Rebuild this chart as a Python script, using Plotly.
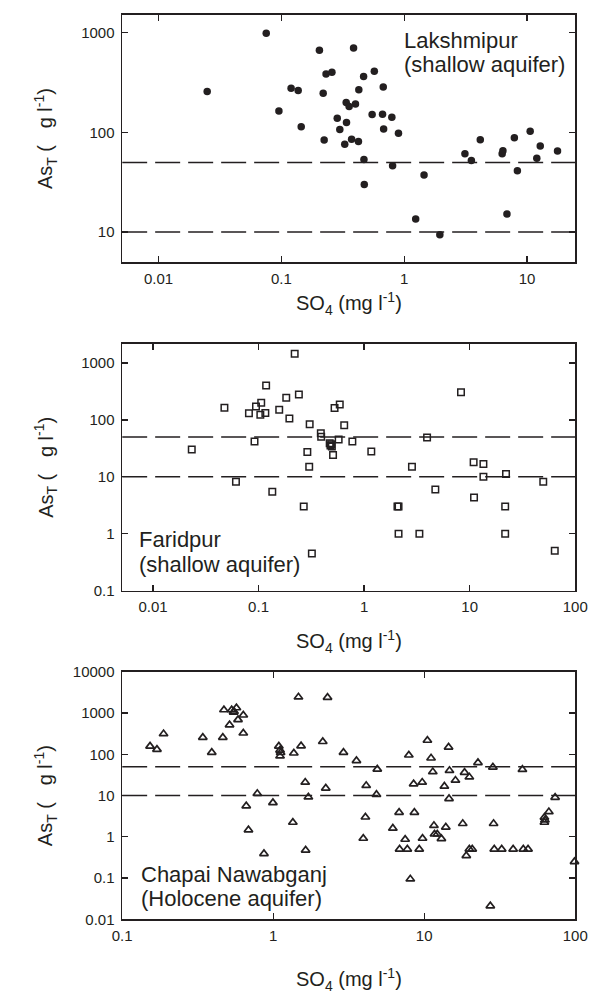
import plotly.graph_objects as go

# ---------------- data ----------------
# Panel 1: Lakshmipur (shallow aquifer)
lak_so4 = [0.0249, 0.0753, 0.0955, 0.120, 0.137, 0.145, 0.204, 0.219, 0.223, 0.231,
           0.258, 0.285, 0.299, 0.328, 0.337, 0.339, 0.356, 0.373, 0.387, 0.401,
           0.424, 0.427, 0.467, 0.470, 0.473, 0.548, 0.571, 0.666, 0.675, 0.680,
           0.793, 0.804, 0.898, 1.24, 1.45, 1.95, 3.12, 3.52, 4.16, 6.27,
           6.36, 6.86, 7.88, 8.34, 10.6, 12.0, 12.8, 17.7]
lak_as = [257, 993, 164, 277, 263, 114, 668, 248, 84, 387,
          402, 139, 107, 76, 200, 126, 182, 85.5, 705, 193,
          81, 269, 365, 53.5, 30.1, 151, 411, 152, 286, 108,
          142, 46.4, 98, 13.5, 37.4, 9.42, 61.2, 52.2, 84.4, 61.2,
          65.6, 15.2, 88.3, 41.3, 103, 55.1, 72.9, 65.2]

# Panel 2: Faridpur (shallow aquifer)
far_so4 = [0.0233, 0.0475, 0.0611, 0.0811, 0.0916, 0.0946, 0.104, 0.106, 0.116, 0.118,
           0.135, 0.157, 0.183, 0.196, 0.220, 0.241, 0.268, 0.290, 0.302, 0.305,
           0.320, 0.389, 0.392, 0.472, 0.480, 0.488, 0.495, 0.508, 0.525, 0.574,
           0.588, 0.648, 0.774, 1.17, 2.07, 2.12, 2.12, 2.84, 3.34, 3.95,
           4.73, 8.28, 10.9, 11.0, 13.5, 13.5, 22.1, 21.7, 21.7, 49.8, 64.0]
far_as = [30.3, 163, 8.15, 130, 41.6, 172, 123, 199, 132, 401,
          5.47, 150, 245, 106, 1449, 280, 3.01, 27.2, 15.0, 84,
          0.447, 58, 50.7, 38.9, 35.5, 37.4, 34, 24.1, 161, 45,
          186, 80.6, 41.6, 27.9, 3.01, 3.0, 1.0, 15.0, 1.0, 48.8,
          6.0, 304, 18.0, 4.31, 16.7, 10.0, 11.2, 3.0, 1.0, 8.15, 0.503]

# Panel 3: Chapai Nawabganj (Holocene aquifer)
cha_so4 = [0.153, 0.170, 0.188, 0.342, 0.392, 0.464, 0.472, 0.514, 0.531, 0.547,
           0.55, 0.571, 0.585, 0.634, 0.634, 0.663, 0.686, 0.785, 0.869, 0.996,
           1.09, 1.11, 1.11, 1.12, 1.35, 1.37, 1.47, 1.53, 1.63, 1.64,
           1.71, 2.13, 2.23, 2.29, 2.92, 3.56, 3.95, 4.13, 4.08, 4.83,
           4.89, 6.20, 6.82, 6.87, 7.48, 7.73, 7.91, 8.09, 8.51, 8.61,
           9.27, 9.70, 9.75, 10.5, 11.1, 11.4, 11.6, 11.7, 12.2, 13.0,
           13.6, 13.9, 14.5, 14.6, 14.7, 16.1, 18.0, 18.5, 19.0, 19.9,
           19.9, 20.8, 22.7, 27.4, 28.5, 28.8, 29.1, 32.6, 38.8, 44.7,
           45.3, 48.7, 62.5, 63.0, 62.5, 66.9, 73.6, 98.9]
cha_as = [157, 131, 315, 257, 111, 257, 1197, 515, 1197, 1052,
          1100, 1337, 690, 893, 327, 5.6, 1.47, 11.2, 0.39, 6.7,
          157, 126, 90.6, 110, 2.24, 107, 2446, 160, 21, 0.474,
          9.2, 203, 15.1, 2400, 111, 70.2, 0.916, 17.5, 3.0, 10.6,
          43.5, 1.61, 3.9, 0.5, 0.867, 0.5, 95.7, 0.0946, 19.1, 3.9,
          0.5, 21, 0.916, 218, 81, 37.6, 1.87, 1.16, 1.16, 0.90,
          16.8, 1.71, 149, 8.4, 40.4, 23.4, 2.09, 36.3, 0.348, 28.1,
          0.5, 0.5, 62.8, 0.0211, 48.7, 2.09, 0.5, 0.5, 0.5, 42.8,
          0.5, 0.5, 2.96, 2.55, 2.24, 4.04, 9.0, 0.249]

thresholds = [10, 50]

x_ranges = [(-2.296, 1.392), (-2.292, 2.0), (-1.0, 2.0)]
y_ranges = [(0.698, 3.18), (-1.0, 3.334), (-2.0, 4.0)]
x_ticks = [[0.01, 0.1, 1, 10], [0.01, 0.1, 1, 10, 100], [0.1, 1, 10, 100]]
x_ticktext = [["0.01", "0.1", "1", "10"], ["0.01", "0.1", "1", "10", "100"],
              ["0.1", "1", "10", "100"]]
y_ticks = [[10, 100, 1000], [0.1, 1, 10, 100, 1000],
           [0.01, 0.1, 1, 10, 100, 1000, 10000]]
y_ticktext = [["10", "100", "1000"], ["0.1", "1", "10", "100", "1000"],
              ["0.01", "0.1", "1", "10", "100", "1000", "10000"]]

labels = [("Lakshmipur", "(shallow aquifer)"),
          ("Faridpur", "(shallow aquifer)"),
          ("Chapai Nawabganj", "(Holocene aquifer)")]

# ---------------- layout geometry (pixels) ----------------
W, H = 604, 1001
box_x = (116.6, 587.6)
box_y = [(6.0, 257.5), (340.7, 591.7), (674.3, 926.0)]
xtitle_y = [300, 643, 987]
label_pos = [(408, 31.7, 56.7), (131.7, 540, 565), (134, 880, 905)]

INK = "#231f20"
FONT = "Liberation Sans, Arial, Helvetica, sans-serif"


def px_x(v):
    return v / W


def px_y(v):
    return 1 - v / H


fig = go.Figure()

datasets = [(lak_so4, lak_as, dict(symbol="circle", size=7.5, color=INK)),
            (far_so4, far_as, dict(symbol="square-open", size=6.5, color=INK,
                                   line=dict(width=1.5, color=INK))),
            (cha_so4, cha_as, dict(symbol="triangle-up-open", size=7.5, color=INK,
                                   line=dict(width=1.7, color=INK)))]

for i, (xs, ys, mk) in enumerate(datasets):
    xa = "x" if i == 0 else f"x{i+1}"
    ya = "y" if i == 0 else f"y{i+1}"
    x_lo, x_hi = 10 ** x_ranges[i][0], 10 ** x_ranges[i][1]
    for t in thresholds:
        fig.add_trace(go.Scatter(x=[x_lo, x_hi], y=[t, t], mode="lines",
                                 line=dict(color=INK, width=1.5, dash="25px,8px"),
                                 xaxis=xa, yaxis=ya, showlegend=False,
                                 hoverinfo="skip", cliponaxis=True))
    fig.add_trace(go.Scatter(x=xs, y=ys, mode="markers", marker=mk,
                             xaxis=xa, yaxis=ya, showlegend=False,
                             cliponaxis=False))

layout = dict(width=W, height=H, margin=dict(l=0, r=0, t=0, b=0),
              paper_bgcolor="white", plot_bgcolor="white",
              font=dict(family=FONT, color=INK), showlegend=False)

annotations = []
for i in range(3):
    xk = "xaxis" if i == 0 else f"xaxis{i+1}"
    yk = "yaxis" if i == 0 else f"yaxis{i+1}"
    top, bot = box_y[i]
    layout[xk] = dict(type="log", range=list(x_ranges[i]),
                      domain=[px_x(box_x[0]), px_x(box_x[1])],
                      anchor="y" if i == 0 else f"y{i+1}",
                      tickvals=x_ticks[i], ticktext=x_ticktext[i],
                      ticks="inside", ticklen=6, tickwidth=1.3, tickcolor=INK,
                      showline=True, linecolor=INK, linewidth=1.6, mirror="ticks",
                      showgrid=False, zeroline=False, ticklabelstandoff=2,
                      tickfont=dict(size=15, family=FONT, color=INK))
    layout[yk] = dict(type="log", range=list(y_ranges[i]),
                      domain=[px_y(bot), px_y(top)],
                      anchor="x" if i == 0 else f"x{i+1}",
                      tickvals=y_ticks[i], ticktext=y_ticktext[i],
                      ticks="inside", ticklen=6, tickwidth=1.3, tickcolor=INK,
                      showline=True, linecolor=INK, linewidth=1.6, mirror="ticks",
                      showgrid=False, zeroline=False, ticklabelstandoff=3,
                      tickfont=dict(size=15, family=FONT, color=INK))
    # x-axis title
    annotations.append(dict(xref="paper", yref="paper",
                            x=px_x((box_x[0] + box_x[1]) / 2), y=px_y(xtitle_y[i]),
                            xanchor="center", yanchor="middle", showarrow=False,
                            text="SO<sub>4</sub> (mg l<sup>-1</sup>)",
                            font=dict(size=20, family=FONT, color=INK)))
    # y-axis title
    annotations.append(dict(xref="paper", yref="paper",
                            x=px_x(37), y=px_y((top + bot) / 2),
                            xanchor="center", yanchor="middle", showarrow=False,
                            textangle=-90,
                            text="As<sub>T</sub> (\u00a0\u00a0\u00a0g l<sup>-1</sup>)",
                            font=dict(size=20, family=FONT, color=INK)))
    # site label
    lx, ly1, ly2 = label_pos[i]
    for txt, ly in zip(labels[i], (ly1, ly2)):
        annotations.append(dict(xref="paper", yref="paper",
                                x=px_x(lx), y=px_y(ly),
                                xanchor="left", yanchor="middle", showarrow=False,
                                text=txt, font=dict(size=22, family=FONT, color=INK)))

layout["annotations"] = annotations
fig.update_layout(**layout)
fig.write_html("out.html",
               config={"displayModeBar": False, "staticPlot": True},
               post_script="document.body.style.margin='0';"
                           "document.body.style.overflow='hidden';")
